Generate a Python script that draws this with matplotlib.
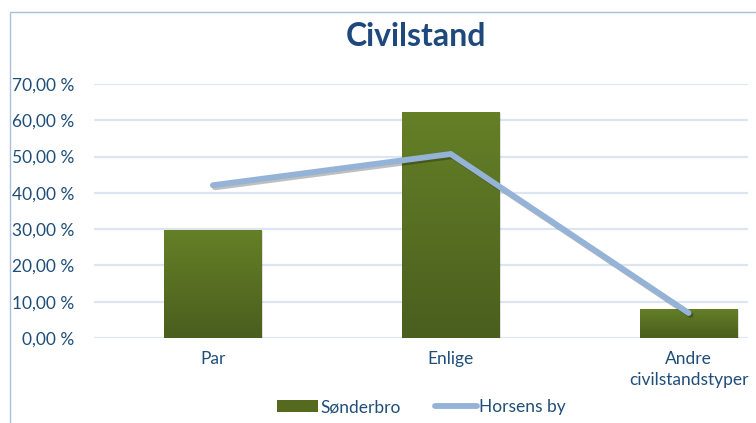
import numpy as np
import matplotlib
matplotlib.use('Agg')
import matplotlib.pyplot as plt
from matplotlib.patches import Rectangle, Patch
from matplotlib.lines import Line2D
import matplotlib.patheffects as pe
from matplotlib.colors import LinearSegmentedColormap

# Data
kategorier = ['Par', 'Enlige', 'Andre\ncivilstandstyper']
soenderbro = [29.8, 62.3, 8.0]
horsens_by = [42.1, 50.7, 6.9]
y_ticks = [0, 10, 20, 30, 40, 50, 60, 70]

plt.rcParams['font.family'] = ['Lato', 'DejaVu Sans']
tekst_farve = '#1F4E79'
grid_farve = '#DCE6F2'
linje_farve = '#95B3D7'

W, H = 756, 423
fig = plt.figure(figsize=(W / 100, H / 100), dpi=100)

# Ramme rundt om diagrammet (venstre og top synlig)
fig.patches.append(Rectangle((10 / W, -0.1), 1.2, (H - 12) / H + 0.1,
                             transform=fig.transFigure, fill=False,
                             edgecolor='#A9BFDA', lw=1.0))

ax = fig.add_axes([94 / W, (H - 338) / H, (748 - 94) / W, (338 - 84) / H])
for s in ax.spines.values():
    s.set_visible(False)

ax.set_yticks(y_ticks)
ax.set_yticklabels([f'{v:.2f} %'.replace('.', ',') for v in y_ticks])
ax.yaxis.grid(True, color=grid_farve, lw=1.6)
ax.set_axisbelow(True)
ax.tick_params(axis='y', length=0, pad=14, labelsize=12.5, labelcolor=tekst_farve)
ax.tick_params(axis='x', length=0, pad=9, labelsize=12.5, labelcolor=tekst_farve)

x = np.arange(len(kategorier))
ax.set_xticks(x)
ax.set_xticklabels(kategorier, linespacing=1.4)

# Søjler med gradient
bar_w = 0.41
cmap = LinearSegmentedColormap.from_list('groen', ['#4A5E1E', '#658027'])
grad = np.linspace(0, 1, 256).reshape(-1, 1)
bars = ax.bar(x, soenderbro, width=bar_w, color='none', zorder=2)
for b in bars:
    x0, y0 = b.get_x(), b.get_y()
    bw, bh = b.get_width(), b.get_height()
    # skygge
    ax.add_patch(Rectangle((x0 + 0.006, y0 - 0.35), bw, bh, color='#000000',
                           alpha=0.12, zorder=1.5, lw=0))
    im = ax.imshow(grad, extent=(x0, x0 + bw, y0, y0 + bh), origin='lower',
                   cmap=cmap, aspect='auto', zorder=2)
    im.set_clip_path(b)
ax.set_xlim(-0.5, 2.25)
ax.set_ylim(0, 70)

# Linje
ax.plot(x, horsens_by, color=linje_farve, lw=4.2, solid_capstyle='round',
        solid_joinstyle='miter', zorder=3,
        path_effects=[pe.SimpleLineShadow(offset=(1.5, -1.5), alpha=0.25),
                      pe.Normal()])

# Titel
fig.text(416 / W, 1 - 37 / H, 'Civilstand', ha='center', va='center',
         fontsize=23, fontweight='bold', color='#1F497D')

# Forklaring
handles = [Patch(facecolor='#55691F', edgecolor='none', label='Sønderbro'),
           Line2D([0], [0], color=linje_farve, lw=4.2, solid_capstyle='round',
                  label='Horsens by')]
leg = fig.legend(handles=handles, loc='center', ncol=2,
                 bbox_to_anchor=(421 / W, 1 - 407 / H), frameon=False,
                 fontsize=12.5, handlelength=2.4, handletextpad=0.1,
                 columnspacing=2.0, handleheight=0.75)
for t in leg.get_texts():
    t.set_color(tekst_farve)

fig.savefig('out.png', dpi=100)
